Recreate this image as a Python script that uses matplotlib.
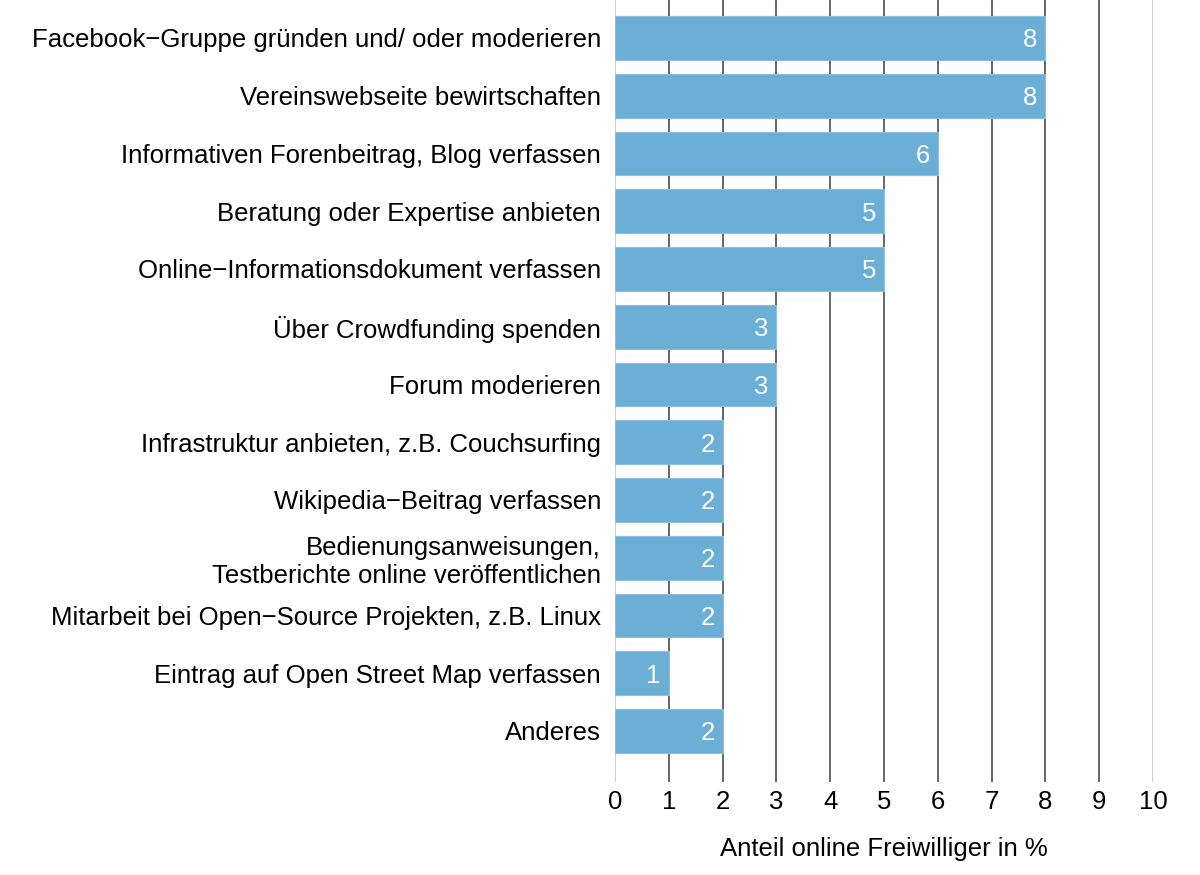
import matplotlib.pyplot as plt
import numpy as np

plt.rcParams["font.family"] = ["Liberation Sans", "DejaVu Sans"]

categories = [
    "Facebook−Gruppe gründen und/ oder moderieren",
    "Vereinswebseite bewirtschaften",
    "Informativen Forenbeitrag, Blog verfassen",
    "Beratung oder Expertise anbieten",
    "Online−Informationsdokument verfassen",
    "Über Crowdfunding spenden",
    "Forum moderieren",
    "Infrastruktur anbieten, z.B. Couchsurfing",
    "Wikipedia−Beitrag verfassen",
    "Bedienungsanweisungen,\nTestberichte online veröffentlichen",
    "Mitarbeit bei Open−Source Projekten, z.B. Linux",
    "Eintrag auf Open Street Map verfassen",
    "Anderes",
]
values = [8, 8, 6, 5, 5, 3, 3, 2, 2, 2, 2, 1, 2]
xticks = list(range(0, 11))

fs = 18.5

fig = plt.figure(figsize=(12, 8.75), dpi=100)
ax = fig.add_axes([0.5125, 0.1063, 0.4483, 0.8937])

y = np.arange(len(categories))

# vertical grid lines, light at the borders
for t in xticks:
    col = "#c8c8c8" if t in (0, 10) else "#5a5a5a"
    ax.axvline(t, color=col, lw=1.3, zorder=1)

ax.barh(y, values, height=0.76, color="#6baed6", edgecolor="#8cc0e0",
        linewidth=0.8, zorder=2)

for yi, v in zip(y, values):
    ax.text(v - 0.15, yi, str(v), color="white", fontsize=fs,
            ha="right", va="center_baseline", zorder=3)

ax.set_xlim(0, 10)
ax.set_ylim(len(categories) - 1 + 0.883, -0.658)
ax.set_xticks(xticks)
ax.set_xticklabels([str(t) for t in xticks], fontsize=fs)
ax.set_yticks(y)
ax.set_yticklabels(categories, fontsize=fs, linespacing=1.2)
ax.tick_params(axis="both", length=0)
ax.tick_params(axis="y", pad=10)
ax.tick_params(axis="x", pad=6)
for s in ax.spines.values():
    s.set_visible(False)

ax.set_xlabel("Anteil online Freiwilliger in %", fontsize=fs, labelpad=16)

fig.savefig("out.png", dpi=100)
